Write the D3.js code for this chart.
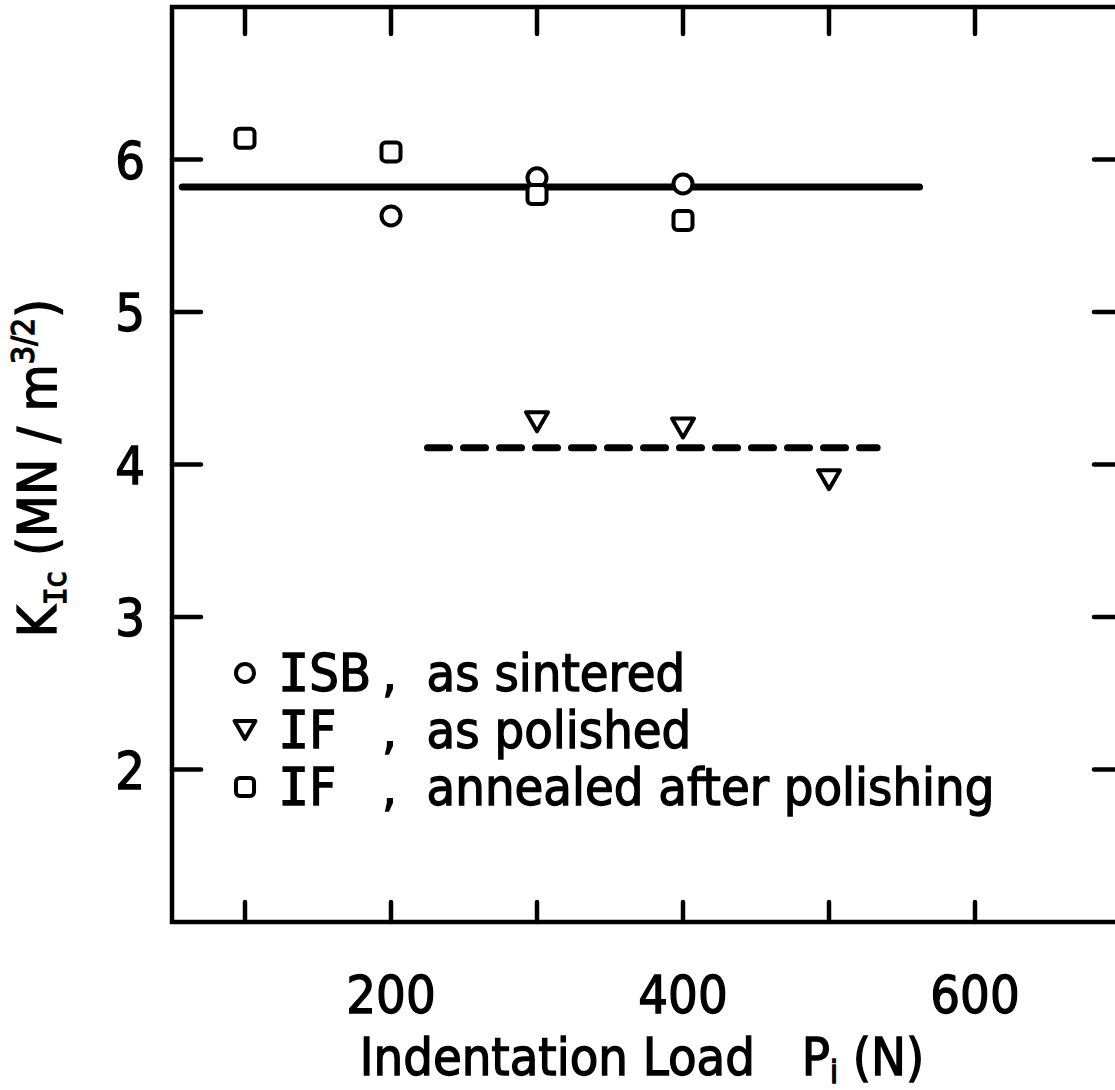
<!DOCTYPE html>
<html>
<head>
<meta charset="utf-8">
<script src="https://cdn.jsdelivr.net/npm/d3@7"></script>
<style>
  body { margin: 0; background: #fff; }
  svg text { font-family: "DejaVu Sans Condensed", "DejaVu Sans", sans-serif; font-stretch: condensed; fill: #000; stroke: #000; stroke-width: 1.3px; }
  svg text .serif { font-family: "DejaVu Sans Mono", monospace; font-stretch: normal; }
</style>
</head>
<body>
<svg id="chart" width="1115" height="1090"></svg>
<script>
// données
const loadsISB = [200, 300, 400];
const kicISB = [5.63, 5.88, 5.84];
const loadsPolished = [300, 400, 500];
const kicPolished = [4.28, 4.24, 3.9];
const loadsAnnealed = [100, 200, 300, 400];
const kicAnnealed = [6.14, 6.05, 5.77, 5.6];
const meanLineSolid = { x: [57, 562], y: 5.82 };
const meanLineDashed = { x: [225, 533], y: 4.11 };
const xTicks = [100, 200, 300, 400, 500, 600];
const xTickLabels = [200, 400, 600];
const yTicks = [2, 3, 4, 5, 6];
const legendLabels = [
  { sym: "circle", name: "ISB", desc: ", as sintered" },
  { sym: "triangle", name: "IF", desc: ", as polished" },
  { sym: "square", name: "IF", desc: ", annealed after polishing" }
];

const svg = d3.select("#chart");
const x = d3.scaleLinear().domain([50, 700]).range([172, 1121]);
const y = d3.scaleLinear().domain([1, 7]).range([922, 7]);

// cadre
svg.append("rect")
  .attr("x", x(50)).attr("y", y(7))
  .attr("width", x(700) - x(50)).attr("height", y(1) - y(7))
  .attr("fill", "none").attr("stroke", "#000").attr("stroke-width", 4.5);

// graduations (vers l'intérieur)
const ticks = svg.append("g").attr("stroke", "#000").attr("stroke-width", 4.5).attr("stroke-linecap", "round");
ticks.selectAll(".tt").data(xTicks).join("line")
  .attr("x1", d => x(d)).attr("x2", d => x(d))
  .attr("y1", y(7)).attr("y2", y(7) + 27);
ticks.selectAll(".tb").data(xTicks).join("line")
  .attr("x1", d => x(d)).attr("x2", d => x(d))
  .attr("y1", y(1)).attr("y2", y(1) - 20);
ticks.selectAll(".tl").data(yTicks).join("line")
  .attr("x1", x(50)).attr("x2", x(50) + 29)
  .attr("y1", d => y(d)).attr("y2", d => y(d));
ticks.selectAll(".tr").data(yTicks).join("line")
  .attr("x1", x(700)).attr("x2", x(700) - 27)
  .attr("y1", d => y(d)).attr("y2", d => y(d));

// étiquettes des axes
svg.selectAll(".xl").data(xTickLabels).join("text")
  .attr("x", d => x(d)).attr("y", 1013)
  .attr("text-anchor", "middle").attr("font-size", 52)
  .text(d => d);
svg.selectAll(".yl").data(yTicks).join("text")
  .attr("x", 145).attr("y", d => y(d) + 19)
  .attr("text-anchor", "end").attr("font-size", 52)
  .text(d => d);

const xt = svg.append("text").attr("x", 642).attr("y", 1075)
  .attr("text-anchor", "middle").attr("font-size", 52);
xt.append("tspan").text("Indentation Load\u2002\u2002P");
xt.append("tspan").attr("font-size", 32).attr("dy", 8).text("i");
xt.append("tspan").attr("dy", -8).text(" (N)");

const yt = svg.append("text")
  .attr("transform", "translate(56,468) rotate(-90)")
  .attr("text-anchor", "middle").attr("font-size", 54);
yt.append("tspan").text("K");
yt.append("tspan").attr("class", "serif").attr("font-size", 30).attr("dy", 10).text("I");
yt.append("tspan").attr("font-size", 32).text("c");
yt.append("tspan").attr("dy", -10).text(" (MN / m");
yt.append("tspan").attr("font-size", 32).attr("dy", -22).text("3/2");
yt.append("tspan").attr("dy", 22).text(")");

// droites moyennes
svg.append("line")
  .attr("x1", x(meanLineSolid.x[0])).attr("x2", x(meanLineSolid.x[1]))
  .attr("y1", y(meanLineSolid.y)).attr("y2", y(meanLineSolid.y))
  .attr("stroke", "#000").attr("stroke-width", 7).attr("stroke-linecap", "round");
svg.append("line")
  .attr("x1", x(meanLineDashed.x[0])).attr("x2", x(meanLineDashed.x[1]))
  .attr("y1", y(meanLineDashed.y)).attr("y2", y(meanLineDashed.y))
  .attr("stroke", "#000").attr("stroke-width", 7).attr("stroke-linecap", "round")
  .attr("stroke-dasharray", "22,14");

// symboles
function drawSym(g, sym, cx, cy, s) {
  if (sym === "circle") {
    g.append("circle").attr("cx", cx).attr("cy", cy).attr("r", 9.5 * s);
  } else if (sym === "square") {
    const a = 19 * s;
    g.append("rect").attr("x", cx - a / 2).attr("y", cy - a / 2)
      .attr("width", a).attr("height", a).attr("rx", 4 * s);
  } else {
    const w = 22 * s, h = 19 * s;
    g.append("path")
      .attr("d", `M${cx - w / 2},${cy - h / 2}L${cx + w / 2},${cy - h / 2}L${cx},${cy + h / 2}Z`)
      .attr("stroke-linejoin", "round");
  }
}
const marks = svg.append("g").attr("fill", "#fff").attr("stroke", "#000").attr("stroke-width", 4);
loadsISB.forEach((d, i) => drawSym(marks, "circle", x(d), y(kicISB[i]), 1));
loadsPolished.forEach((d, i) => drawSym(marks, "triangle", x(d), y(kicPolished[i]), 1));
loadsAnnealed.forEach((d, i) => drawSym(marks, "square", x(d), y(kicAnnealed[i]), 1));

// légende
const leg = svg.append("g");
legendLabels.forEach((d, i) => {
  const cy = 673 + i * 57;
  const gs = leg.append("g").attr("fill", "#fff").attr("stroke", "#000").attr("stroke-width", 4);
  drawSym(gs, d.sym, 245, cy, 0.95);
  const t = leg.append("text").attr("x", 278).attr("y", cy + 18).attr("font-size", 52);
  t.append("tspan").attr("class", "serif").text(d.name[0]);
  t.append("tspan").text(d.name.slice(1));
  leg.append("text").attr("x", 382).attr("y", cy + 18).attr("font-size", 52)
    .attr("xml:space", "preserve").text(d.desc.replace(", ", ",  "));
});
</script>
</body>
</html>
